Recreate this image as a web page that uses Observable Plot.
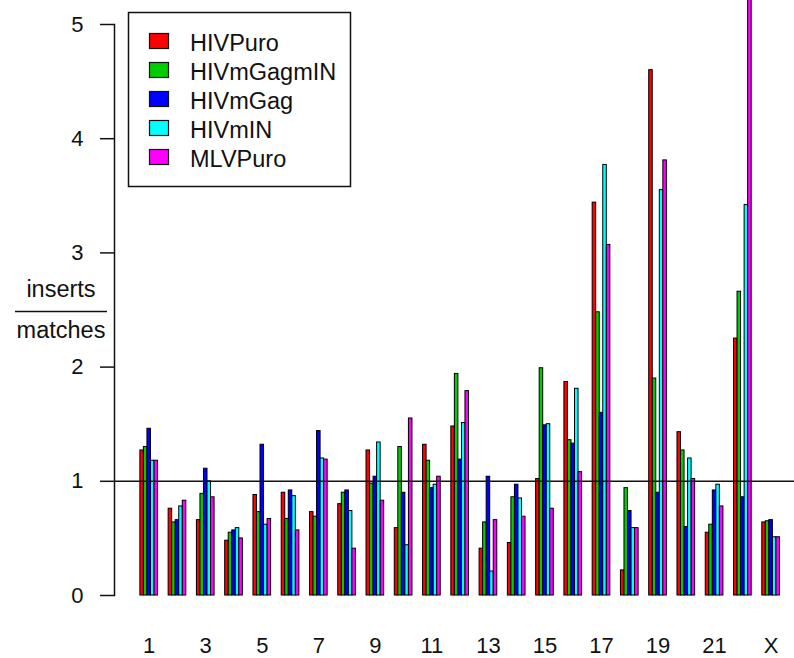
<!DOCTYPE html>
<html>
<head>
<meta charset="utf-8">
<script src="https://cdn.jsdelivr.net/npm/d3@7"></script>
<script src="https://cdn.jsdelivr.net/npm/@observablehq/plot@0.6"></script>
<style>
  body { margin: 0; background: #fff; }
  #chart { position: relative; width: 794px; height: 658px; }
  #chart > svg { position: absolute; left: 0; top: 0; display: block; }
  #chart > svg.overlay { pointer-events: none; }
</style>
</head>
<body>
<div id="chart"></div>
<script>
// Chromosomes on the x axis, and the subset that gets a tick label
const chromosomes = ["1","2","3","4","5","6","7","8","9","10","11","12","13","14","15","16","17","18","19","20","21","22","X"];
const tickLabels = ["1","3","5","7","9","11","13","15","17","19","21","X"];
const yTicks = [0, 1, 2, 3, 4, 5];

// Vector series and their fill colours
const seriesNames = ["HIVPuro", "HIVmGagmIN", "HIVmGag", "HIVmIN", "MLVPuro"];
const seriesColors = ["#ff0000", "#00cd00", "#0000ff", "#00ffff", "#ff00ff"];

// Ratio of inserts to matches, per chromosome
const hivPuro    = [1.27, 0.76, 0.66, 0.48, 0.88, 0.90, 0.73, 0.80, 1.27, 0.59, 1.32, 1.48, 0.41, 0.46, 1.02, 1.87, 3.44, 0.22, 4.60, 1.43, 0.55, 2.25, 0.64];
const hivMGagMIN = [1.30, 0.64, 0.89, 0.55, 0.73, 0.67, 0.69, 0.90, 0.98, 1.30, 1.18, 1.94, 0.64, 0.86, 1.99, 1.36, 2.48, 0.94, 1.90, 1.27, 0.62, 2.66, 0.65];
const hivMGag    = [1.46, 0.66, 1.11, 0.57, 1.32, 0.92, 1.44, 0.92, 1.04, 0.90, 0.94, 1.19, 1.04, 0.97, 1.49, 1.33, 1.60, 0.74, 0.90, 0.60, 0.92, 0.86, 0.66];
const hivMIN     = [1.18, 0.78, 1.00, 0.59, 0.62, 0.87, 1.20, 0.74, 1.34, 0.44, 0.97, 1.51, 0.21, 0.85, 1.50, 1.81, 3.77, 0.59, 3.55, 1.20, 0.97, 3.42, 0.51];
const mlvPuro    = [1.18, 0.83, 0.86, 0.50, 0.67, 0.57, 1.19, 0.41, 0.83, 1.55, 1.04, 1.79, 0.66, 0.69, 0.76, 1.08, 3.07, 0.59, 3.81, 1.02, 0.78, 6.00, 0.51];

const seriesValues = [hivPuro, hivMGagMIN, hivMGag, hivMIN, mlvPuro];

// Layout
const width = 794, height = 658;
const marginLeft = 114, marginRight = 0, marginTop = 24, marginBottom = 63;
const paddingInner = 0.375, paddingOuter = 0.715, align = 0.64;
const step = (width - marginLeft - marginRight) / (chromosomes.length - paddingInner + 2 * paddingOuter);
const barWidth = step * (1 - paddingInner) / seriesNames.length;
const fontFamily = "'Liberation Sans', Arial, sans-serif";

// One bar mark per series, each sliding into its own slot of the chromosome band
const barMarks = seriesNames.map((name, j) =>
  Plot.barY(
    chromosomes.map((c, i) => ({chromosome: c, series: name, value: seriesValues[j][i]})),
    {
      x: "chromosome",
      y: "value",
      fill: "series",
      stroke: "black",
      strokeWidth: 1,
      insetLeft: j * barWidth,
      insetRight: (seriesNames.length - 1 - j) * barWidth
    }
  )
);

const chart = Plot.plot({
  width, height, marginLeft, marginRight, marginTop, marginBottom,
  style: {fontFamily, fontSize: "22px", color: "#111", background: "transparent"},
  x: {domain: chromosomes, paddingInner, paddingOuter, align, round: false},
  y: {domain: [0, 5]},
  color: {domain: seriesNames, range: seriesColors},
  marks: [
    ...barMarks,
    Plot.ruleY([1], {stroke: "#111", strokeWidth: 1.5}),
    Plot.frame({anchor: "left", stroke: "#111", strokeWidth: 1.5}),
    Plot.axisY({ticks: yTicks, tickFormat: "d", tickSize: 14, tickPadding: 17, stroke: "#111", strokeWidth: 1.5, label: null}),
    Plot.axisX({ticks: tickLabels, tickSize: 0, tickPadding: 42, label: null})
  ]
});

const root = document.getElementById("chart");
root.appendChild(chart);

// Separate layer for the legend box and the fraction-style y title
const overlay = d3.create("svg")
  .attr("class", "overlay")
  .attr("width", width)
  .attr("height", height)
  .attr("viewBox", `0 0 ${width} ${height}`)
  .attr("font-family", fontFamily)
  .attr("fill", "#111");

const legend = overlay.append("g")
  .attr("font-size", 23.5)
  .attr("text-anchor", "start");
legend.append("rect")
  .attr("x", 128.5).attr("y", 12.5).attr("width", 222).attr("height", 174)
  .attr("fill", "white").attr("stroke", "#111").attr("stroke-width", 1.5);
const rows = legend.selectAll("g.row")
  .data(seriesNames)
  .join("g")
  .attr("class", "row")
  .attr("transform", (d, j) => `translate(0,${j * 29})`);
rows.append("rect")
  .attr("x", 149.5).attr("y", 33.5).attr("width", 19).attr("height", 15)
  .attr("fill", (d, j) => seriesColors[j])
  .attr("stroke", "#111").attr("stroke-width", 1.2);
rows.append("text")
  .attr("x", 190).attr("y", 51)
  .text(d => d);

const ylab = overlay.append("g")
  .attr("font-size", 23.5)
  .attr("text-anchor", "middle");
ylab.append("text").attr("x", 61).attr("y", 297).text("inserts");
ylab.append("line")
  .attr("x1", 15).attr("x2", 107).attr("y1", 311.5).attr("y2", 311.5)
  .attr("stroke", "#111").attr("stroke-width", 1.5);
ylab.append("text").attr("x", 61).attr("y", 338).text("matches");

root.appendChild(overlay.node());
</script>
</body>
</html>
